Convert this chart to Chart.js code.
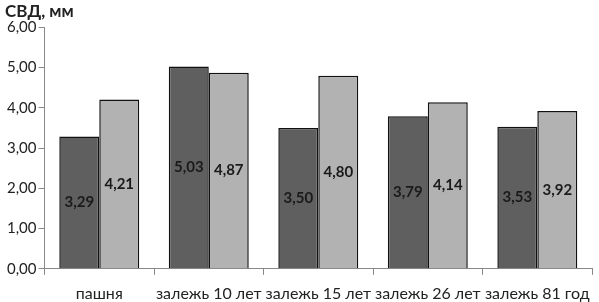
<!DOCTYPE html>
<html>
<head>
<meta charset="utf-8">
<script src="https://cdn.jsdelivr.net/npm/chart.js@4"></script>
<style>
  body { margin: 0; background: #fff; }
  #wrap { width: 599px; height: 302px; }
</style>
</head>
<body>
<div id="wrap"><canvas id="grafico"></canvas></div>
<script>
const categorias = ["пашня", "залежь 10 лет", "залежь 15 лет", "залежь 26 лет", "залежь 81 год"];
const serie1 = [3.29, 5.03, 3.50, 3.79, 3.53];
const serie2 = [4.21, 4.87, 4.80, 4.14, 3.92];
const ticksY = [0, 1, 2, 3, 4, 5, 6];

const fuente = "Lato, 'Open Sans', sans-serif";

function formato(v) {
  return v.toFixed(2).replace(".", ",");
}

// etiquetas de valor en el centro de cada barra
const etiquetas = {
  id: "etiquetas",
  afterDatasetsDraw(chart) {
    const ctx = chart.ctx;
    ctx.save();
    ctx.font = "bold 15px " + fuente;
    ctx.fillStyle = "#1a1a1a";
    ctx.textAlign = "center";
    ctx.textBaseline = "middle";
    chart.data.datasets.forEach((ds, i) => {
      chart.getDatasetMeta(i).data.forEach((bar, j) => {
        const y = (bar.y + bar.base) / 2;
        ctx.fillText(formato(ds.data[j]), bar.x, y);
      });
    });
    ctx.restore();
  }
};

new Chart(document.getElementById("grafico"), {
  type: "bar",
  data: {
    labels: categorias,
    datasets: [
      { data: serie1, backgroundColor: "#5f5f5f", borderColor: "#111", borderWidth: 1.5 },
      { data: serie2, backgroundColor: "#b2b2b2", borderColor: "#111", borderWidth: 1.5 }
    ]
  },
  options: {
    responsive: true,
    maintainAspectRatio: false,
    animation: false,
    layout: { padding: { left: 5, right: 3, top: 0, bottom: -10 } },
    datasets: { bar: { categoryPercentage: 0.73, barPercentage: 1 } },
    plugins: {
      legend: { display: false },
      tooltip: { enabled: false },
      title: {
        display: true,
        text: "СВД, мм",
        align: "start",
        color: "#222",
        font: { family: fuente, size: 17, weight: "bold" },
        padding: { top: 1, bottom: 6 }
      }
    },
    scales: {
      x: {
        grid: { display: true, drawOnChartArea: false, color: "#888", tickLength: 6, offset: true },
        border: { color: "#888" },
        ticks: { color: "#222", font: { family: fuente, size: 16 }, padding: 9, maxRotation: 0, autoSkip: false }
      },
      y: {
        min: 0,
        max: 6,
        afterBuildTicks(axis) { axis.ticks = ticksY.map(v => ({ value: v })); },
        grid: { display: true, drawOnChartArea: false, color: "#888", tickLength: 6 },
        border: { color: "#888" },
        ticks: { color: "#222", font: { family: fuente, size: 15 }, padding: 2, callback: v => formato(v) }
      }
    }
  },
  plugins: [etiquetas]
});
</script>
</body>
</html>
